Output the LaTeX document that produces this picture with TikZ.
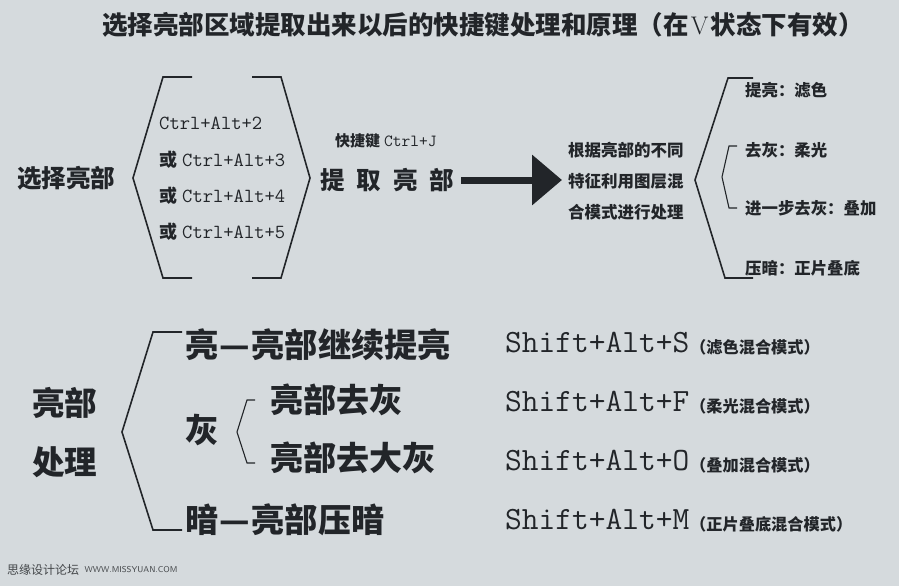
\documentclass[tikz,border=0pt]{standalone}
\usepackage{fontspec}
\newfontfamily\cjk{Noto Sans CJK SC}
\usetikzlibrary{arrows.meta}
\definecolor{bg}{HTML}{D5DADD}
\definecolor{ink}{HTML}{222529}
\newcommand\widedash{\makebox[1em][c]{\resizebox{0.92em}{\height}{—}}}
\tikzset{
  lbl/.style={inner sep=0pt, text=ink, anchor=west},
  zh/.style={lbl, font=\cjk\bfseries\fontsize{#1}{#1}\selectfont},
  mono/.style={lbl, font=\ttfamily\fontsize{#1}{#1}\selectfont},
  brk/.style={draw=ink, line width=1.6pt, line join=miter},
  sbrk/.style={draw=ink, line width=1.1pt, line join=miter},
}
\begin{document}
\begin{tikzpicture}[x=1pt,y=-1pt]
\fill[bg] (0,0) rectangle (899,586);
\useasboundingbox (0,0) rectangle (899,586);

% title
\node[zh=25.5, anchor=center] (title) at (483,25) {选择亮部区域提取出来以后的快捷键处理和原理（在\hspace{2pt}{\rmfamily\mdseries V}\hspace{2pt}状态下有效）};

% left part
\node[zh=24.5] (sel) at (17,178) {选择亮部};
\draw[brk] (192,77) -- (163,77) -- (133,178) -- (163,278) -- (192,278);
\draw[brk] (252,77) -- (281,77) -- (310,178) -- (281,278) -- (252,278);

\node[mono=20] (k1) at (159,123) {Ctrl+Alt+2};
\node[lbl] (k2) at (159,160) {{\cjk\bfseries\fontsize{18}{18}\selectfont 或}\hspace{5pt}{\ttfamily\fontsize{20}{20}\selectfont Ctrl+Alt+3}};
\node[lbl] (k3) at (159,196) {{\cjk\bfseries\fontsize{18}{18}\selectfont 或}\hspace{5pt}{\ttfamily\fontsize{20}{20}\selectfont Ctrl+Alt+4}};
\node[lbl] (k4) at (159,232) {{\cjk\bfseries\fontsize{18}{18}\selectfont 或}\hspace{5pt}{\ttfamily\fontsize{20}{20}\selectfont Ctrl+Alt+5}};

\node[lbl] (hot) at (335,141) {{\cjk\bfseries\fontsize{15}{15}\selectfont 快捷键}\hspace{4pt}{\ttfamily\fontsize{17}{17}\selectfont Ctrl+J}};
\node[zh=24.5] (tiqu) at (320,180) {提\hspace{12pt}取\hspace{12pt}亮\hspace{12pt}部};

\node[lbl, align=left, font=\cjk\bfseries\fontsize{16.5}{31}\selectfont] (mid) at (568,181) {根据亮部的不同\\特征利用图层混\\合模式进行处理};

\draw[ink, line width=7pt, shorten <=7pt, shorten >=6pt, -{Triangle[length=30pt,width=49pt]}] (tiqu.east) -- (tiqu.east -| mid.west);

% right part
\draw[brk] (753,78) -- (728,78) -- (695,180) -- (725,278) -- (753,278);
\draw[sbrk] (737,146) -- (729,146) -- (722,177) -- (729,208) -- (737,208);
\node[zh=16.4] (r1) at (745,90) {提亮：滤色};
\node[zh=16.4] (r2) at (745,150) {去灰：柔光};
\node[zh=16.4] (r3) at (745,208) {进一步去灰：叠加};
\node[zh=16.4] (r4) at (745,268) {压暗：正片叠底};

% bottom part
\node[zh=32.5] (lb1) at (32,403) {亮部};
\node[zh=32.5] (lb2) at (32,462) {处理};
\draw[brk] (182,332) -- (153,332) -- (122,432) -- (153,530) -- (182,530);
\node[zh=33.2] (b1) at (185,345) {亮\widedash 亮部继续提亮};
\node[zh=33] (b2) at (185,430) {灰};
\draw[sbrk] (255,400) -- (247,400) -- (237,432) -- (247,463) -- (255,463);
\node[zh=33] (b3) at (270,400) {亮部去灰};
\node[zh=33] (b4) at (270,458) {亮部去大灰};
\node[zh=33.2] (b5) at (185,520) {暗\widedash 亮部压暗};

\node[mono=32.5] (s1) at (505,343) {Shift+Alt+S};
\node[mono=32.5] (s2) at (505,402) {Shift+Alt+F};
\node[mono=32.5] (s3) at (505,461) {Shift+Alt+O};
\node[mono=32.5] (s4) at (505,520) {Shift+Alt+M};
\node[zh=16.2] (n1) at (690,347) {（滤色混合模式）};
\node[zh=16.2] (n2) at (690,406) {（柔光混合模式）};
\node[zh=16.2] (n3) at (690,465) {（叠加混合模式）};
\node[zh=16.2] (n4) at (690,524) {（正片叠底混合模式）};

% footer
\node[lbl, font=\cjk\fontsize{12}{12}\selectfont, text=ink!85] (ft) at (7,570) {思缘设计论坛};
\node[lbl, font=\sffamily\fontsize{8.5}{8.5}\selectfont, text=ink!85] (url) at ([xshift=5pt]ft.east) {WWW.MISSYUAN.COM};
\end{tikzpicture}
\end{document}
